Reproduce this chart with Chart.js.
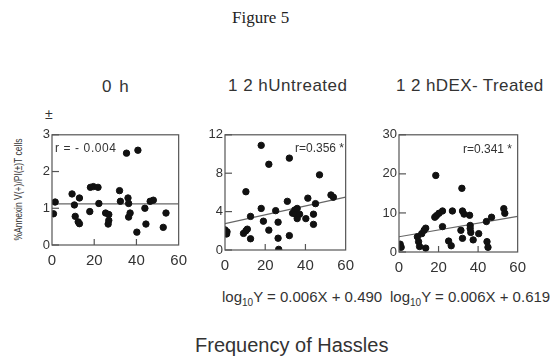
<!DOCTYPE html>
<html>
<head>
<meta charset="utf-8">
<script src="https://cdn.jsdelivr.net/npm/chart.js@4.4.1/dist/chart.umd.min.js"></script>
<style>
  body { margin: 0; background: #fff; width: 560px; height: 360px; position: relative; overflow: hidden; font-family: "Liberation Sans", Arial, sans-serif; color: #333; }
  .box { position: absolute; }
  .txt { position: absolute; white-space: nowrap; }
</style>
</head>
<body>
<div class="txt" style="left:232px;top:8px;font-family:'Liberation Serif',serif;font-size:17px;color:#222;">Figure 5</div>

<div class="txt" style="left:102px;top:77px;font-size:17px;letter-spacing:1.5px;">0 h</div>
<div class="txt" style="left:228px;top:76px;font-size:17px;letter-spacing:0.5px;">1 2 hUntreated</div>
<div class="txt" style="left:396px;top:76px;font-size:17px;letter-spacing:0.4px;">1 2 hDEX- Treated</div>

<div class="txt" style="left:-52px;top:184px;font-size:10px;transform:rotate(-90deg) scaleX(0.85);transform-origin:center;width:140px;text-align:center;">%Annexin V(+)/PI(±)T cells</div>
<div class="txt" style="left:45px;top:106px;font-size:14px;">±</div>

<div class="box" style="left:30px;top:125px;width:164px;height:143px;"><canvas id="c0"></canvas></div>
<div class="box" style="left:203px;top:125px;width:158px;height:148px;"><canvas id="c1"></canvas></div>
<div class="box" style="left:377px;top:125px;width:156px;height:150px;"><canvas id="c2"></canvas></div>

<div class="txt" style="left:55px;top:141px;font-size:12px;letter-spacing:0.6px;">r = - 0.004</div>
<div class="txt" style="left:295px;top:141px;font-size:12px;">r=0.356 *</div>
<div class="txt" style="left:463px;top:142px;font-size:12px;">r=0.341 *</div>

<div class="txt" style="left:222px;top:288px;font-size:15px;">log<sub style="font-size:10px;">10</sub>Y = 0.006X + 0.490</div>
<div class="txt" style="left:390px;top:288px;font-size:15px;">log<sub style="font-size:10px;">10</sub>Y = 0.006X + 0.619</div>

<div class="txt" style="left:195px;top:334px;font-size:20px;">Frequency of Hassles</div>

<script>
// 0 h
const x0h = [0.7, 1.5, 9.5, 10.6, 13, 11, 12.4, 13, 17.9, 18.2, 19.6, 21.8, 22.2, 25.4, 26.9, 26.6, 26.9, 32, 32.4, 35.3, 36, 36.3, 36.3, 37, 40.2, 40.7, 44, 44.5, 46.5, 48, 52.7, 54];
const y0h = [0.85, 1.17, 1.39, 1.09, 1.28, 0.78, 0.63, 0.58, 0.91, 1.57, 1.59, 1.57, 1.13, 0.87, 0.83, 0.57, 0.67, 1.48, 1.19, 2.5, 1.28, 1.13, 0.76, 0.87, 0.35, 2.58, 1.0, 0.57, 1.19, 1.22, 0.48, 0.87];
const line0h = [1.12, 1.12];

// 12 h untreated
const xUn = [0, 0.8, 1, 9.2, 10.4, 11.1, 10.4, 12.7, 12.7, 18, 18, 19.1, 21.8, 21.8, 25.2, 26.4, 26.4, 26.7, 31, 32, 32, 33.6, 34.7, 35.1, 35.9, 35.9, 37.1, 40.2, 41.2, 44, 44, 45, 47, 52.7, 53.9];
const yUn = [2.1, 1.67, 1.9, 1.73, 2.0, 2.17, 6.07, 3.5, 1.17, 10.9, 4.33, 3.0, 8.93, 2.07, 4.1, 2.9, 1.23, 0.07, 5.07, 9.57, 1.5, 3.83, 4.17, 3.73, 4.33, 3.27, 3.73, 3.27, 5.4, 3.73, 2.67, 4.83, 7.83, 5.73, 5.5];
const lineUn = [2.75, 5.5];

// 12 h DEX treated
const xDex = [0.6, 1.1, 9.3, 9.9, 10.4, 11.5, 12.7, 13.5, 13.5, 18.1, 18.6, 18.9, 20.2, 22, 22, 25.1, 26.4, 27, 31.3, 31.8, 32.1, 32.1, 32.9, 35.7, 36, 36, 36.3, 37.5, 40.3, 44.2, 44.5, 45, 46.8, 53, 53.5];
const yDex = [2.0, 1.2, 3.9, 2.65, 1.4, 4.7, 5.55, 6.1, 1.0, 8.9, 19.6, 9.3, 9.9, 10.5, 6.5, 2.8, 1.6, 10.5, 5.55, 16.3, 10.5, 3.5, 9.7, 9.4, 6.8, 6.0, 5.0, 3.1, 4.7, 7.8, 2.65, 1.2, 8.9, 11.1, 9.9];
const lineDex = [3.9, 9.1];

const xTicks = [0, 20, 40, 60];
const lineX = [0, 60];

// khung + vạch chia nằm bên trong
const framePlugin = {
    id: 'frame',
    afterDraw(chart) {
        const a = chart.chartArea, ctx = chart.ctx;
        ctx.save();
        ctx.strokeStyle = '#555';
        ctx.lineWidth = 1.2;
        ctx.strokeRect(a.left, a.top, a.right - a.left, a.bottom - a.top);
        const ys = chart.scales.y;
        ys.ticks.forEach(t => {
            const p = ys.getPixelForValue(t.value);
            ctx.beginPath(); ctx.moveTo(a.left, p); ctx.lineTo(a.left + 7, p); ctx.stroke();
        });
        const xs = chart.scales.x;
        [20, 40].forEach(v => {
            const p = xs.getPixelForValue(v);
            ctx.beginPath(); ctx.moveTo(p, a.bottom); ctx.lineTo(p, a.bottom - 6); ctx.stroke();
        });
        ctx.restore();
    }
};

function makeChart(id, xs, ys, lineY, yMax, yStep) {
    const pts = xs.map((x, i) => ({ x: x, y: ys[i] }));
    const ln = lineX.map((x, i) => ({ x: x, y: lineY[i] }));
    new Chart(document.getElementById(id), {
        type: 'scatter',
        data: {
            datasets: [
                { data: pts, backgroundColor: '#111', borderColor: '#111', pointRadius: 3.2 },
                { type: 'line', data: ln, borderColor: '#666', borderWidth: 1.2, pointRadius: 0, fill: false }
            ]
        },
        options: {
            responsive: true,
            maintainAspectRatio: false,
            animation: false,
            layout: { padding: { top: 5, right: 5, left: 0, bottom: 0 } },
            plugins: { legend: { display: false }, tooltip: { enabled: false } },
            scales: {
                x: {
                    type: 'linear', min: 0, max: 60,
                    afterBuildTicks: s => { s.ticks = xTicks.map(v => ({ value: v })); },
                    afterFit: s => { s.height = 23; },
                    grid: { display: false, drawTicks: false },
                    border: { display: false },
                    ticks: { color: '#333', font: { family: 'Liberation Sans', size: 15 }, padding: 7 }
                },
                y: {
                    min: 0, max: yMax,
                    ticks: { stepSize: yStep, color: '#333', font: { family: 'Liberation Sans', size: 13 }, padding: 2 },
                    afterFit: s => { s.width = 22; },
                    grid: { display: false, drawTicks: false },
                    border: { display: false }
                }
            }
        },
        plugins: [framePlugin]
    });
}

makeChart('c0', x0h, y0h, line0h, 3, 1);
makeChart('c1', xUn, yUn, lineUn, 12, 4);
makeChart('c2', xDex, yDex, lineDex, 30, 10);
</script>
</body>
</html>
